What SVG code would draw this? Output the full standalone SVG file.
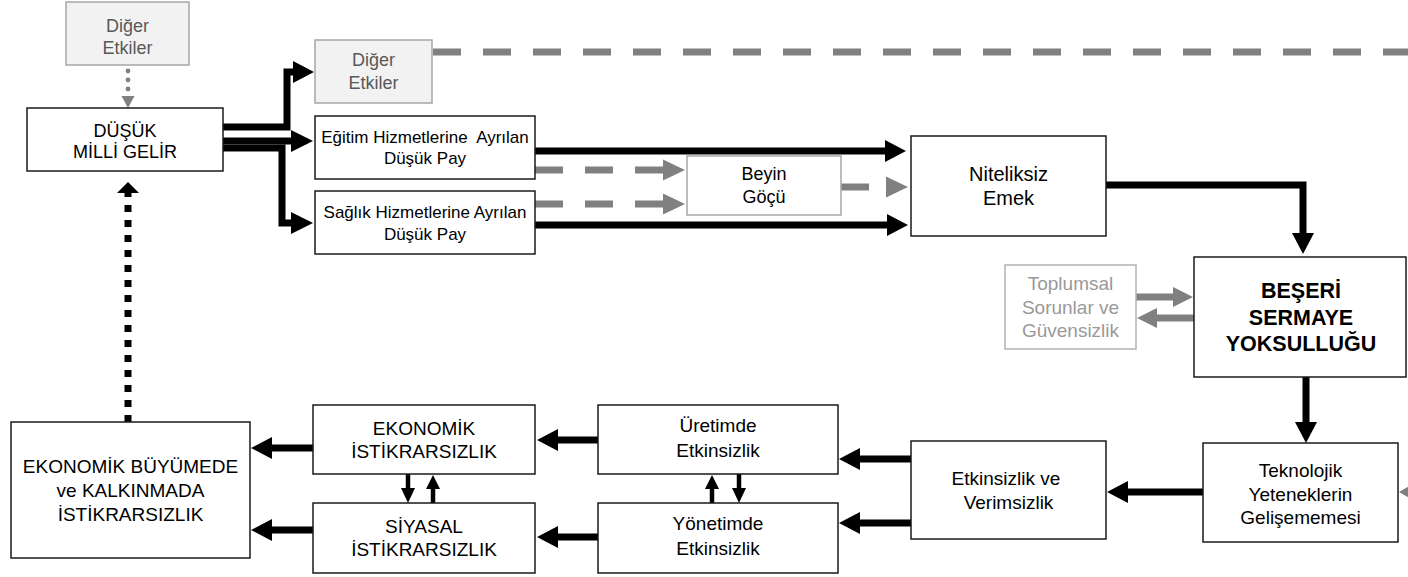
<svg xmlns="http://www.w3.org/2000/svg" width="1408" height="577" viewBox="0 0 1408 577">
<style>
  .box{fill:#fff;stroke:#1a1a1a;stroke-width:1.5}
  .gbox{fill:#f2f2f2;stroke:#a6a6a6;stroke-width:1.5}
  .lbox{fill:#fff;stroke:#a6a6a6;stroke-width:1.5}
  text{font-family:"Liberation Sans",Arial,sans-serif;text-anchor:middle;fill:#000}
  .t17{font-size:17px}
  .t18{font-size:18px}
  .t19{font-size:19px}
  .t20{font-size:20px}
  .gt{fill:#595959}
  .lt{fill:#999}
  .bold{font-size:21.5px;font-weight:bold}
  .blk{fill:none;stroke:#000;stroke-width:7}
  .thin{fill:none;stroke:#000;stroke-width:4.5}
  .gd{fill:none;stroke:#808080;stroke-width:7;stroke-dasharray:28 22}
  .gs{fill:none;stroke:#808080;stroke-width:7}
  .hb{fill:#000}
  .hg{fill:#808080}
</style>
<rect width="1408" height="577" fill="#fff"/>

<g id="connectors">
  <!-- top gray dotted arrow -->
  <circle cx="128" cy="71" r="2.4" class="hg"/>
  <circle cx="128" cy="80" r="2.4" class="hg"/>
  <circle cx="128" cy="89" r="2.4" class="hg"/>
  <polygon points="121.5,96 134.5,96 128,108" class="hg"/>
  <!-- black dotted feedback arrow -->
  <line x1="128" y1="422" x2="128" y2="193" style="fill:none;stroke:#000;stroke-width:7;stroke-dasharray:7 8"/>
  <polygon points="117,193 139,193 128,182" class="hb"/>
  <!-- DÜŞÜK -> Diğer Etkiler 2 -->
  <path d="M223,127 H287 V72 H296" class="blk"/>
  <polygon points="293,61 293,83 314,72" class="hb"/>
  <!-- DÜŞÜK -> Eğitim -->
  <path d="M223,141 H294" class="blk"/>
  <polygon points="291,130 291,152 313,141" class="hb"/>
  <!-- DÜŞÜK -> Sağlık -->
  <path d="M223,148 H282 V223 H294" class="blk"/>
  <polygon points="291,212 291,234 313,223" class="hb"/>
  <!-- Diğer Etkiler 2 -> far right dashed -->
  <line x1="433" y1="52" x2="1408" y2="52" class="gd"/>
  <!-- Eğitim -> Niteliksiz -->
  <path d="M535,151 H887" class="blk"/>
  <polygon points="885,140 885,162 906,151" class="hb"/>
  <!-- Sağlık -> Niteliksiz -->
  <path d="M535,225 H889" class="blk"/>
  <polygon points="887,214 887,236 908,225" class="hb"/>
  <!-- Eğitim -> Beyin (gray dashed) -->
  <line x1="535" y1="170" x2="663" y2="170" class="gd"/>
  <polygon points="663,159.5 663,180.5 685,170" class="hg"/>
  <!-- Sağlık -> Beyin -->
  <line x1="535" y1="204" x2="663" y2="204" class="gd"/>
  <polygon points="663,193.5 663,214.5 685,204" class="hg"/>
  <!-- Beyin -> Niteliksiz -->
  <line x1="841" y1="187" x2="869" y2="187" class="gs"/>
  <polygon points="886,176.5 886,197.5 908,187" class="hg"/>
  <!-- Niteliksiz -> BEŞERİ -->
  <path d="M1106,185 H1303 V235" class="blk"/>
  <polygon points="1292,233 1314,233 1303,254" class="hb"/>
  <!-- Toplumsal <-> BEŞERİ -->
  <line x1="1136" y1="297" x2="1175" y2="297" class="gs"/>
  <polygon points="1173,287 1173,307 1193,297" class="hg"/>
  <line x1="1194" y1="318" x2="1155" y2="318" class="gs"/>
  <polygon points="1157,308 1157,328 1137,318" class="hg"/>
  <!-- BEŞERİ -> Teknolojik -->
  <line x1="1306" y1="377" x2="1306" y2="424" class="blk"/>
  <polygon points="1295,422 1317,422 1306,443" class="hb"/>
  <!-- partial gray arrowhead at right edge -->
  <polygon points="1399,492 1416,482 1416,502" class="hg"/>
  <!-- Teknolojik -> Etkinsizlik -->
  <line x1="1203" y1="492" x2="1126" y2="492" class="blk"/>
  <polygon points="1128,481 1128,503 1107,492" class="hb"/>
  <!-- Etkinsizlik -> Üretimde -->
  <line x1="911" y1="459" x2="858" y2="459" class="blk"/>
  <polygon points="860,448 860,470 839,459" class="hb"/>
  <!-- Etkinsizlik -> Yönetimde -->
  <line x1="911" y1="523" x2="858" y2="523" class="blk"/>
  <polygon points="860,512 860,534 839,523" class="hb"/>
  <!-- Üretimde -> EKONOMİK -->
  <line x1="598" y1="440" x2="556" y2="440" class="blk"/>
  <polygon points="558,429 558,451 537,440" class="hb"/>
  <!-- Yönetimde -> SİYASAL -->
  <line x1="598" y1="537" x2="556" y2="537" class="blk"/>
  <polygon points="558,526 558,548 537,537" class="hb"/>
  <!-- EKONOMİK -> BÜYÜMEDE -->
  <line x1="313" y1="448" x2="270" y2="448" class="blk"/>
  <polygon points="272,437 272,459 251,448" class="hb"/>
  <!-- SİYASAL -> BÜYÜMEDE -->
  <line x1="313" y1="530" x2="270" y2="530" class="blk"/>
  <polygon points="272,519 272,541 251,530" class="hb"/>
  <!-- EKONOMİK <-> SİYASAL -->
  <line x1="408" y1="474" x2="408" y2="490" class="thin"/>
  <polygon points="401,488 415,488 408,503" class="hb"/>
  <line x1="433" y1="503" x2="433" y2="487" class="thin"/>
  <polygon points="426,489 440,489 433,475" class="hb"/>
  <!-- Üretimde <-> Yönetimde -->
  <line x1="712" y1="503" x2="712" y2="487" class="thin"/>
  <polygon points="705,489 719,489 712,475" class="hb"/>
  <line x1="739" y1="474" x2="739" y2="490" class="thin"/>
  <polygon points="732,488 746,488 739,503" class="hb"/>
</g>

<g id="diger-etkiler-1">
  <rect x="66" y="2" width="123" height="63" class="gbox"/>
  <text class="t18 gt" x="127.5" y="32">Diğer</text>
  <text class="t18 gt" x="127.5" y="54">Etkiler</text>
</g>
<g id="dusuk-milli-gelir">
  <rect x="27" y="108" width="196" height="63" class="box"/>
  <text class="t18" x="125" y="136.5">DÜŞÜK</text>
  <text class="t18" x="125" y="158">MİLLİ GELİR</text>
</g>
<g id="diger-etkiler-2">
  <rect x="315" y="40" width="117" height="63" class="gbox"/>
  <text class="t18 gt" x="373.5" y="66">Diğer</text>
  <text class="t18 gt" x="373.5" y="89">Etkiler</text>
</g>
<g id="egitim">
  <rect x="315" y="116" width="220" height="63" class="box"/>
  <text class="t17" x="425" y="143" xml:space="preserve">Eğitim Hizmetlerine  Ayrılan</text>
  <text class="t17" x="425" y="164">Düşük Pay</text>
</g>
<g id="saglik">
  <rect x="315" y="191" width="220" height="63" class="box"/>
  <text class="t17" x="425" y="218">Sağlık Hizmetlerine Ayrılan</text>
  <text class="t17" x="425" y="239.5">Düşük Pay</text>
</g>
<g id="beyin-gocu">
  <rect x="687" y="156" width="154" height="59" class="lbox"/>
  <text class="t18" x="764" y="180">Beyin</text>
  <text class="t18" x="764" y="203">Göçü</text>
</g>
<g id="niteliksiz-emek">
  <rect x="911" y="136" width="195" height="100" class="box"/>
  <text class="t20" x="1008.5" y="181">Niteliksiz</text>
  <text class="t20" x="1008.5" y="205">Emek</text>
</g>
<g id="toplumsal">
  <rect x="1005" y="265" width="131" height="84" class="lbox" style="stroke:#b3b3b3"/>
  <text class="t19 lt" x="1070.5" y="290">Toplumsal</text>
  <text class="t19 lt" x="1070.5" y="313.5">Sorunlar ve</text>
  <text class="t19 lt" x="1070.5" y="337">Güvensizlik</text>
</g>
<g id="beseri-sermaye">
  <rect x="1194" y="257" width="212" height="120" class="box"/>
  <text class="bold" x="1301" y="298">BEŞERİ</text>
  <text class="bold" x="1301" y="324.5">SERMAYE</text>
  <text class="bold" x="1301" y="351">YOKSULLUĞU</text>
</g>
<g id="teknolojik">
  <rect x="1203" y="443" width="195" height="99" class="box"/>
  <text class="t19" x="1300.5" y="477">Teknolojik</text>
  <text class="t19" x="1300.5" y="500.5">Yeteneklerin</text>
  <text class="t19" x="1300.5" y="524">Gelişememesi</text>
</g>
<g id="etkinsizlik-verimsizlik">
  <rect x="911" y="441" width="195" height="98" class="box"/>
  <text class="t19" x="1008.5" y="485" xml:space="preserve">Etkinsizlik ve </text>
  <text class="t19" x="1008.5" y="509">Verimsizlik</text>
</g>
<g id="uretimde">
  <rect x="598" y="405" width="240" height="69" class="box"/>
  <text class="t19" x="718" y="432">Üretimde</text>
  <text class="t19" x="718" y="457">Etkinsizlik</text>
</g>
<g id="yonetimde">
  <rect x="598" y="503" width="240" height="70" class="box"/>
  <text class="t19" x="718" y="530">Yönetimde</text>
  <text class="t19" x="718" y="555">Etkinsizlik</text>
</g>
<g id="ekonomik-istikrarsizlik">
  <rect x="313" y="405" width="222" height="69" class="box"/>
  <text class="t19" x="424" y="435">EKONOMİK</text>
  <text class="t19" x="424" y="458">İSTİKRARSIZLIK</text>
</g>
<g id="siyasal-istikrarsizlik">
  <rect x="313" y="503" width="222" height="70" class="box"/>
  <text class="t19" x="424" y="533">SİYASAL</text>
  <text class="t19" x="424" y="556">İSTİKRARSIZLIK</text>
</g>
<g id="ekonomik-buyumede">
  <rect x="11" y="422" width="239" height="136" class="box"/>
  <text class="t19" x="130.5" y="473">EKONOMİK BÜYÜMEDE</text>
  <text class="t19" x="130.5" y="497">ve KALKINMADA</text>
  <text class="t19" x="130.5" y="520.5">İSTİKRARSIZLIK</text>
</g>
</svg>
